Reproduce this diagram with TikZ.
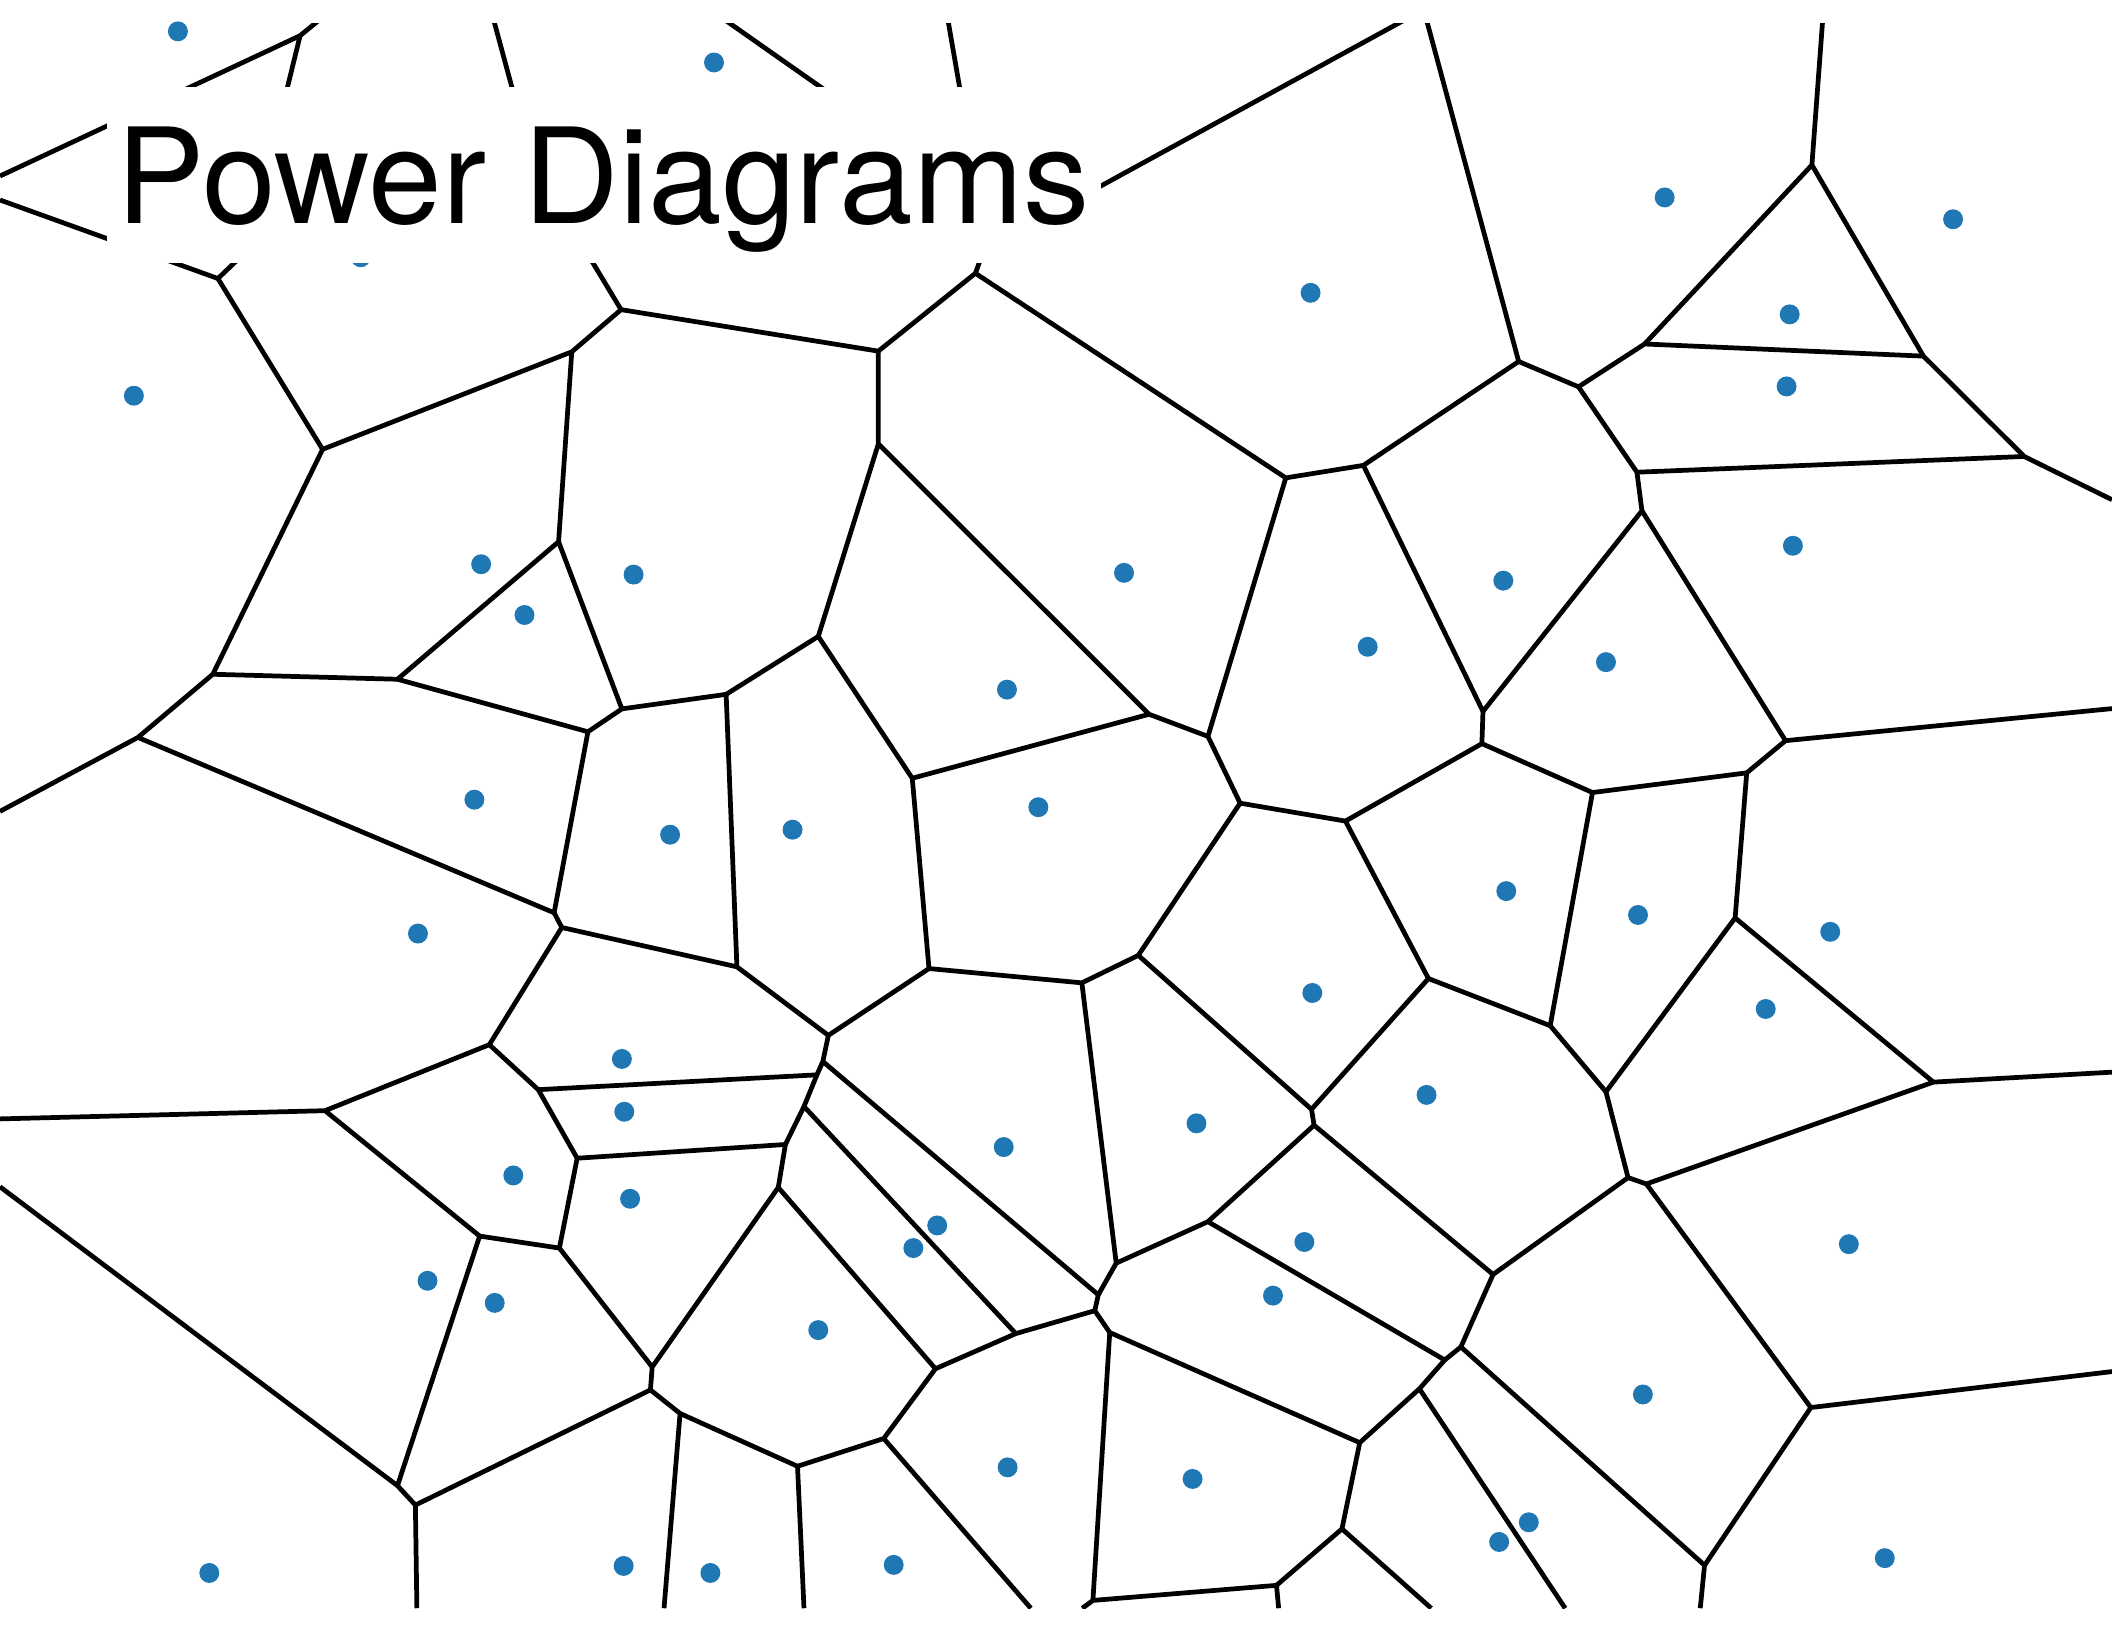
\documentclass[tikz,border=0pt]{standalone}
\usepackage{fontspec}
\setmainfont{TeX Gyre Heros}
\usepackage{xcolor}
\definecolor{siteblue}{HTML}{1f77b4}

\begin{document}
\begin{tikzpicture}[x=0.1mm,y=-0.1mm,
  cell/.style={line width=1pt,black,line join=round}]
  \useasboundingbox (0,0) rectangle (1568,1212);
  % vertices
  \coordinate (V0) at (222.8,26.5);   \coordinate (B0) at (183.8,185.7);
  \coordinate (A1) at (161.8,206.8);  \coordinate (C1) at (239.5,333.6);
  \coordinate (D1) at (461.1,229.9);  \coordinate (E1) at (724.2,202.9);
  \coordinate (F1) at (424.5,261.2);  \coordinate (G1) at (652.1,260.7);
  \coordinate (H1) at (652.1,329.6);  \coordinate (I1) at (954.6,354.8);
  \coordinate (J1) at (1012.2,345.5); \coordinate (K1) at (1127.5,268.4);
  \coordinate (L1) at (1171.9,287.2); \coordinate (M1) at (1221.0,255.4);
  \coordinate (N1) at (1345.2,122.5); \coordinate (N2) at (1428.0,264.4);
  \coordinate (O1) at (1502.8,338.9); \coordinate (P1) at (1215.3,350.6);
  \coordinate (Q1) at (1219.0,379.2); \coordinate (R1) at (1101.0,528.2);
  \coordinate (S1) at (1325.6,549.9); \coordinate (T1) at (1100.2,552.1);
  \coordinate (U1) at (1182.3,588.4); \coordinate (W1) at (1296.8,573.8);
  \coordinate (X1) at (1288.2,681.5); \coordinate (Y1) at (1150.9,761.5);
  \coordinate (Z1) at (998.9,609.6);  \coordinate (A2) at (920.7,596.3);
  \coordinate (B2) at (896.8,546.7);  \coordinate (C2) at (853.1,530.3);
  \coordinate (D2) at (677.3,577.8);  \coordinate (E2) at (607.5,472.5);
  \coordinate (F2) at (539.1,515.5);  \coordinate (G2) at (461.7,526.3);
  \coordinate (H2) at (414.7,402.2);  \coordinate (I2) at (436.5,543.3);
  \coordinate (J2) at (295.1,504.3);  \coordinate (K2) at (158.0,500.6);
  \coordinate (L2) at (102.4,547.5);  \coordinate (M2) at (411.4,677.7);
  \coordinate (O2) at (547.1,717.8);  \coordinate (P2) at (615.0,768.7);
  \coordinate (Q2) at (689.7,719.1);  \coordinate (R2) at (803.2,729.7);
  \coordinate (S2) at (845.1,709.3);  \coordinate (T2) at (1060.5,726.5);
  \coordinate (U2) at (973.7,823.6);  \coordinate (V2) at (975.6,835.4);
  \coordinate (W2) at (1192.3,810.6); \coordinate (X2) at (1435.4,803.4);
  \coordinate (Y2) at (1222.3,879.0); \coordinate (Z2) at (1208.7,874.3);
  \coordinate (A3) at (1108.5,946.2); \coordinate (B3) at (896.8,907.0);
  \coordinate (C3) at (828.7,937.8);  \coordinate (D3) at (815.4,961.3);
  \coordinate (E3) at (812.8,973.1);  \coordinate (F3) at (823.9,989.3);
  \coordinate (G3) at (1072.6,1009.7);\coordinate (H3) at (1084.6,1000.0);
  \coordinate (I3) at (1053.8,1031.1);\coordinate (J3) at (1009.5,1071.1);
  \coordinate (K3) at (996.3,1135.1); \coordinate (L3) at (947.7,1177.0);
  \coordinate (M3) at (811.4,1188.2); \coordinate (N3) at (1265.5,1162.1);
  \coordinate (O3) at (1344.4,1045.0);
  \coordinate (A4) at (417.1,688.6);  \coordinate (B4) at (610.9,788.1);
  \coordinate (C4) at (606.5,798.0);  \coordinate (D4) at (596.9,821.5);
  \coordinate (E4) at (583.1,849.7);  \coordinate (F4) at (754.2,990.1);
  \coordinate (G4) at (428.5,859.9);  \coordinate (H4) at (577.8,881.6);
  \coordinate (I4) at (484.2,1014.9); \coordinate (J4) at (694.5,1016.2);
  \coordinate (K4) at (656.1,1068.0); \coordinate (L4) at (592.1,1088.6);
  \coordinate (M4) at (504.9,1049.4); \coordinate (N4) at (482.9,1031.9);
  \coordinate (O4) at (308.4,1117.4); \coordinate (P4) at (295.1,1103.0);
  \coordinate (Q4) at (356.1,917.7);  \coordinate (R4) at (241.3,824.6);
  \coordinate (S4) at (363.3,775.6);  \coordinate (T4) at (399.6,809.0);
  \coordinate (U4) at (415.3,926.6);
  % open ends at the frame
  \coordinate (t1) at (255.1,0);  \coordinate (t2) at (362.5,0);
  \coordinate (t3) at (517.1,0);  \coordinate (t4) at (701.2,0);
  \coordinate (t5) at (1069.9,0); \coordinate (t6) at (1055.1,0);
  \coordinate (t7) at (1354.3,0);
  \coordinate (l1) at (0,130.7);  \coordinate (l2) at (0,148.5);
  \coordinate (l3) at (0,602.4);  \coordinate (l4) at (0,830.7);
  \coordinate (l5) at (0,881.1);
  \coordinate (r1) at (1568,371.0);  \coordinate (r2) at (1568,526.1);
  \coordinate (r3) at (1568,796.0);  \coordinate (r4) at (1568,1018.3);
  \coordinate (b1) at (309.5,1194);  \coordinate (b2) at (493.0,1194);
  \coordinate (b3) at (596.9,1194);  \coordinate (b4) at (765.3,1194);
  \coordinate (b5) at (803.5,1194);  \coordinate (b6) at (949.3,1194);
  \coordinate (b7) at (1062.6,1194); \coordinate (b8) at (1162.0,1194);
  \coordinate (b9) at (1262.3,1194);
  % ends hidden behind the title
  \coordinate (h2) at (395,120);   \coordinate (h3) at (659.6,100);
  \coordinate (h4) at (722,120);   \coordinate (h5) at (790,153);
  \coordinate (h6) at (413,150);   \coordinate (h7) at (743,150);
  % cell edges
  \begin{scope}
    \clip (0,17.8) rectangle (1568,1194);
    \draw[cell] (l1) -- (V0) -- (t1) (V0) -- (B0) -- (A1) -- (l2);
    \draw[cell] (A1) -- (C1) -- (F1) -- (D1) -- (G1) -- (E1) -- (I1) -- (J1) -- (K1)
      -- (L1) -- (M1) -- (N1) -- (N2) -- (O1) -- (r1);
    \draw[cell] (t6) -- (K1) (t7) -- (N1) (M1) -- (N2);
    \draw[cell] (t2) -- (h2) (t3) -- (h3) (t4) -- (h4) (t5) -- (h5) (D1) -- (h6) (E1) -- (h7);
    \draw[cell] (L1) -- (P1) -- (O1) (P1) -- (Q1) -- (S1) -- (r2) (J1) -- (R1) -- (Q1);
    \draw[cell] (R1) -- (T1) -- (U1) -- (W1) -- (S1) (W1) -- (X1) -- (X2) -- (r3);
    \draw[cell] (X1) -- (W2) -- (Y1) -- (U1) (T1) -- (Z1) -- (A2) -- (B2) -- (I1);
    \draw[cell] (B2) -- (C2) -- (H1) -- (G1) (C2) -- (D2) -- (E2) -- (H1);
    \draw[cell] (E2) -- (F2) -- (G2) -- (H2) -- (F1) (G2) -- (I2) -- (J2) -- (H2);
    \draw[cell] (C1) -- (K2) -- (J2) (l3) -- (L2) -- (K2) (L2) -- (M2) -- (I2);
    \draw[cell] (M2) -- (A4) -- (O2) -- (F2) (O2) -- (P2) -- (Q2) -- (D2);
    \draw[cell] (Q2) -- (R2) -- (S2) -- (A2) (Z1) -- (T2) -- (Y1) (S2) -- (U2) -- (T2);
    \draw[cell] (U2) -- (V2) -- (A3) -- (Z2) -- (W2) (Z2) -- (Y2) -- (X2);
    \draw[cell] (Y2) -- (O3) -- (r4) (O3) -- (N3) -- (b9) (N3) -- (H3) -- (A3);
    \draw[cell] (H3) -- (G3) -- (B3) -- (V2) (B3) -- (C3) -- (R2);
    \draw[cell] (C3) -- (D3) -- (E3) -- (F3) -- (J3) -- (I3) -- (G3) (I3) -- (b8);
    \draw[cell] (J3) -- (K3) -- (b7) (K3) -- (L3) -- (b6) (L3) -- (M3) -- (b5) (M3) -- (F3);
    \draw[cell] (P2) -- (B4) -- (D3) (B4) -- (C4) -- (D4) -- (F4) -- (E3);
    \draw[cell] (C4) -- (T4) -- (S4) -- (A4) (D4) -- (E4) -- (G4) -- (T4);
    \draw[cell] (E4) -- (H4) -- (J4) -- (F4) (J4) -- (K4) -- (b4) (K4) -- (L4) -- (b3);
    \draw[cell] (L4) -- (M4) -- (b2) (M4) -- (N4) -- (I4) -- (H4) (N4) -- (O4) -- (b1);
    \draw[cell] (O4) -- (P4) -- (l5) (P4) -- (Q4) -- (U4) -- (I4) (U4) -- (G4);
    \draw[cell] (Q4) -- (R4) -- (l4) (R4) -- (S4);
  \end{scope}
  % sites
  \foreach \p in {(132.1,23.3),(530.1,46.4),(1235.9,146.6),(1450,162.8),(973,217.4),
      (1328.7,233.4),(1326.4,286.9),(99.4,293.8),(1331.1,405.2),(357.2,418.9),
      (470.4,426.6),(834.5,425.3),(1116.1,431.1),(389.4,456.6),(1015.4,480.2),
      (1192.3,491.6),(747.6,512),(352.2,593.7),(497.5,619.7),(588.4,616),
      (770.9,599.3),(1118.3,661.6),(1216.1,679.3),(310.3,693.1),(1358.8,691.8),
      (974.3,737.2),(1310.9,749.1),(461.7,786.2),(1059.1,812.9),(463.5,825.4),
      (888.3,834),(745.2,851.6),(381.1,872.7),(467.8,890),(695.8,909.8),
      (678.1,926.6),(968.4,922.1),(1372.6,923.7),(317.4,950.9),(367.3,967.3),
      (945.1,961.9),(607.5,987.5),(1219.7,1035.3),(748.1,1089.4),(885.4,1098),
      (1135,1130.2),(1113,1144.8),(155.4,1167.8),(463,1162.6),(527.4,1167.8),
      (663.5,1161.8),(1399.3,1156.8),(267.8,191)}
    \fill[siteblue] \p circle[radius=0.74mm];
  % title
  \fill[white] (79.6,64.4) rectangle (817.3,194.9);
  \node[anchor=base west,inner sep=0pt,font=\fontsize{28}{34}\selectfont] (title)
    at (86,166.3) {Power Diagrams};
\end{tikzpicture}
\end{document}
